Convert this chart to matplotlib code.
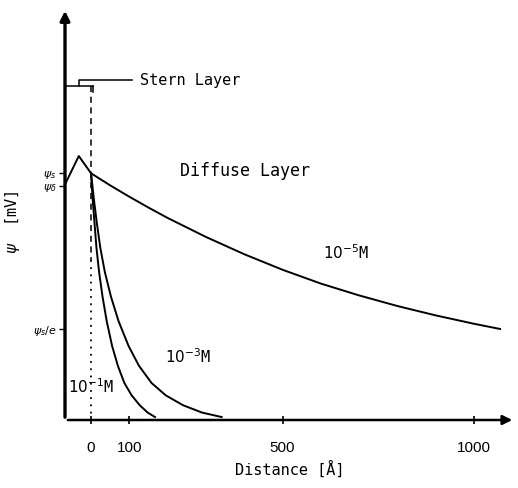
import matplotlib
matplotlib.use('Agg')
import matplotlib.pyplot as plt

# potential curves (distance in Angstrom, psi relative to psi_s)
stern_x = [-68, -32, 0]
stern_y = [0.955, 1.07, 1.0]

x_1e5 = [0, 50, 100, 150, 200, 300, 400, 500, 600, 700, 800, 900, 1000, 1068]
y_1e5 = [1.0, 0.951, 0.905, 0.861, 0.819, 0.742, 0.672, 0.609, 0.553, 0.505,
         0.462, 0.424, 0.390, 0.369]

psi_levels = [1.0, 0.9, 0.8, 0.7, 0.6, 0.5, 0.4, 0.3, 0.22, 0.15, 0.10, 0.06, 0.03, 0.012]
x_1e3 = [0, 7, 15, 24, 36, 52, 72, 98, 125, 158, 195, 240, 290, 341]
x_1e1 = [0, 4, 9, 14, 21, 30, 41, 55, 70, 87, 106, 127, 148, 167]

xticks = [0, 100, 500, 1000]
yticks = [1.0, 0.95, 0.368]
ytick_labels = [r'$\psi_s$', r'$\psi_\delta$', r'$\psi_s/e$']

mono = 'DejaVu Sans Mono'

fig = plt.figure(figsize=(5.18, 4.88), dpi=100)
ax = fig.add_axes([65/518, 68/488, 450/518, 412/488])
ax.set_xlim(-68, 1107)
ax.set_ylim(0, 1.67)
for s in ax.spines.values():
    s.set_visible(False)

# axes with arrows
ax.annotate('', xy=(1107, 0), xytext=(-68, 0), annotation_clip=False,
            arrowprops=dict(arrowstyle='-|>', color='k', lw=1.8, mutation_scale=14))
ax.annotate('', xy=(-68, 1.67), xytext=(-68, 0), annotation_clip=False,
            arrowprops=dict(arrowstyle='-|>', color='k', lw=2.4, mutation_scale=14))

# curves
ax.plot(stern_x, stern_y, color='k', lw=1.4, clip_on=False)
ax.plot(x_1e5, y_1e5, color='k', lw=1.4)
ax.plot(x_1e3, psi_levels, color='k', lw=1.4)
ax.plot(x_1e1, psi_levels, color='k', lw=1.4)

# stern plane
ax.plot([0, 0], [1.354, 0.65], color='k', lw=1.1, ls=(0, (4, 3)))
ax.plot([0, 0], [0.65, 0], color='k', lw=1.3, ls=(0, (1, 3)))

# stern layer bracket
ax.plot([-68, 6], [1.354, 1.354], color='k', lw=1.1, clip_on=False)
ax.plot([6, 6], [1.354, 1.33], color='k', lw=1.1)
ax.plot([-31, -31, 106], [1.354, 1.378, 1.378], color='k', lw=1.1)
ax.text(128, 1.378, 'Stern Layer', family=mono, fontsize=11, va='center', ha='left')

ax.text(232, 1.01, 'Diffuse Layer', family=mono, fontsize=12, va='center', ha='left')
ax.text(606, 0.677, r'$10^{-5}$M', family=mono, fontsize=11, va='center', ha='left')
ax.text(193, 0.255, r'$10^{-3}$M', family=mono, fontsize=11, va='center', ha='left')
ax.text(-60, 0.134, r'$10^{-1}$M', family=mono, fontsize=11, va='center', ha='left')

ax.set_xticks(xticks)
ax.set_xticklabels([str(t) for t in xticks], family='Liberation Sans', fontsize=11)
ax.set_yticks(yticks)
ax.set_yticklabels(ytick_labels, fontsize=8)
ax.tick_params(axis='x', direction='inout', length=6, width=1.2, pad=12)
ax.tick_params(axis='y', direction='out', length=4, width=1.0, pad=2)

ax.set_xlabel('Distance [Å]', family=mono, fontsize=11, labelpad=4)
fig.text(13/518, 1 - 222/488, r'$\psi$  [mV]', family=mono, fontsize=11,
         rotation=90, va='center', ha='center')

fig.savefig('out.png', dpi=100)
